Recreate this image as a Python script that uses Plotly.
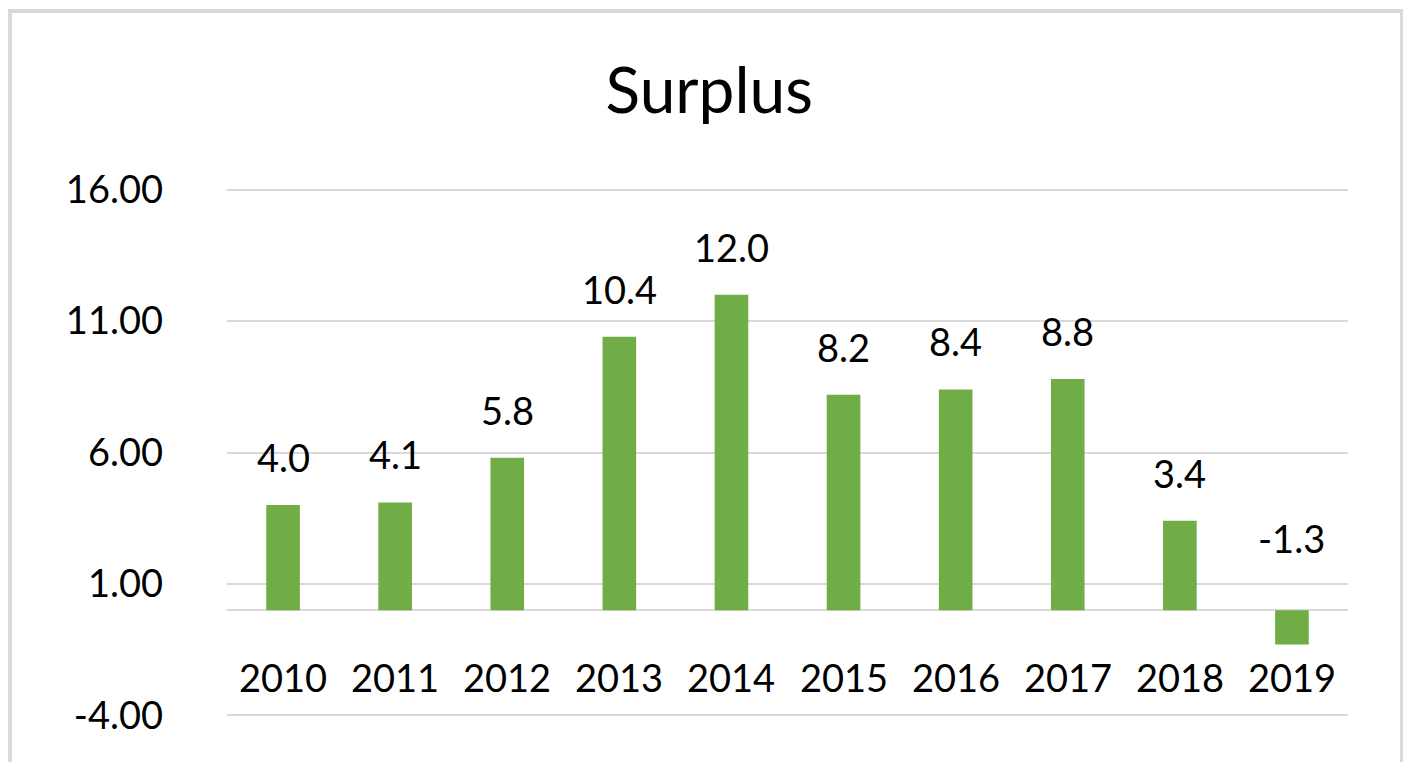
import plotly.graph_objects as go

years : list = ['2010', '2011', '2012', '2013', '2014', '2015', '2016', '2017', '2018', '2019']
surplus : list = [4.0, 4.1, 5.8, 10.4, 12.0, 8.2, 8.4, 8.8, 3.4, -1.3]
y_ticks : list = [16, 11, 6, 1, -4]
y_tick_text : list = ['16.00', '11.00', '6.00', '1.00', '-4.00']
label_level : float = -2.55   # where the category names sit, in axis units

FONT : str = 'Lato, Carlito, Calibri, sans-serif'
GREEN : str = '#70ad47'
GREY : str = '#d9d9d9'

def build_figure() -> go.Figure :
	''' function that builds the surplus bar chart '''

	fig : go.Figure = go.Figure(go.Bar(
		x = years,
		y = surplus,
		marker = dict(color = GREEN, line = dict(width = 0)),
		hoverinfo = 'x+y'
	))

	# annotations on a category axis take the category index as x
	for i, (yr, v) in enumerate(zip(years, surplus)) :

		# data label, above the bar (or above the zero line for negatives)
		fig.add_annotation(
			x = i, y = max(v, 0),
			text = f'{v:.1f}',
			showarrow = False,
			yshift = 48 if v >= 0 else 72,
			font = dict(family = FONT, size = 38, color = '#000000')
		)

		# category name, just under the zero line as in the excel original
		fig.add_annotation(
			x = i, y = label_level,
			text = yr,
			showarrow = False,
			font = dict(family = FONT, size = 38, color = '#000000')
		)

	# chart area border
	fig.add_shape(
		type = 'rect', xref = 'paper', yref = 'paper',
		x0 = -0.1936, x1 = 1.0482, y0 = -0.2, y1 = 1.3316,
		line = dict(color = GREY, width = 4)
	)

	fig.update_layout(
		width = 1411, height = 762,
		margin = dict(l = 219, r = 71, t = 179, b = 52, autoexpand = False),
		paper_bgcolor = 'white',
		plot_bgcolor = 'white',
		showlegend = False,
		bargap = 0.7,
		title = dict(
			text = 'Surplus',
			x = 0.497, xref = 'container', xanchor = 'center',
			y = 0.891, yref = 'container', yanchor = 'middle',
			font = dict(family = FONT, size = 64, color = '#000000')
		),
		font = dict(family = FONT, size = 38, color = '#000000')
	)

	fig.update_yaxes(
		range = [-4.1, 16.1],
		tickvals = y_ticks,
		ticktext = y_tick_text,
		showgrid = True, gridcolor = GREY, gridwidth = 2,
		zeroline = True, zerolinecolor = GREY, zerolinewidth = 2,
		showline = False,
		ticks = '',
		automargin = False,
		ticklabelstandoff = 63,
		tickfont = dict(family = FONT, size = 38, color = '#000000')
	)

	fig.update_xaxes(
		type = 'category',
		range = [-0.5, len(years) - 0.5],
		showline = False, showgrid = False, zeroline = False,
		ticks = '',
		showticklabels = False,
		automargin = False
	)

	return fig

fig = build_figure()
fig.write_html('out.html')
